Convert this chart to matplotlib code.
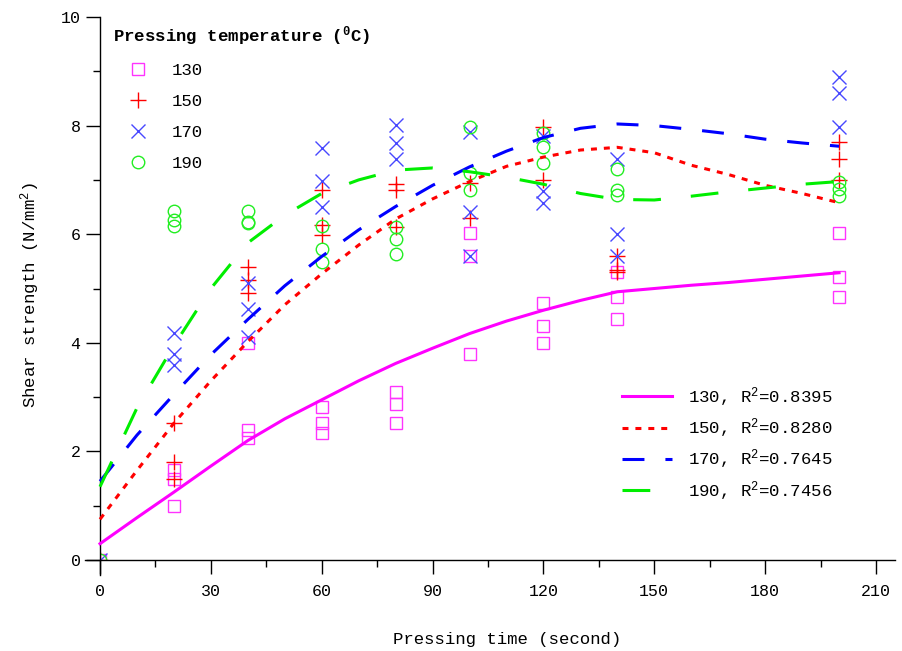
import matplotlib
matplotlib.use("Agg")
import matplotlib.pyplot as plt
from matplotlib.patches import Rectangle
from matplotlib.ticker import MultipleLocator

plt.rcParams['font.family'] = ['Liberation Mono', 'DejaVu Sans Mono']
plt.rcParams['mathtext.fontset'] = 'custom'
plt.rcParams['mathtext.rm'] = 'Liberation Mono'
plt.rcParams['mathtext.it'] = 'Liberation Mono'
plt.rcParams['mathtext.bf'] = 'Liberation Mono:bold'
plt.rcParams['lines.scale_dashes'] = False

# ---- data -------------------------------------------------------------
temperatures = ['130', '150', '170', '190']
r_squared = ['0.8395', '0.8280', '0.7645', '0.7456']

# measured replicates (pressing time in s, shear strength in N/mm2)
time_130 = [0, 20, 20, 20, 40, 40, 40, 60, 60, 60, 80, 80, 80,
            100, 100, 100, 120, 120, 120, 140, 140, 140, 200, 200, 200]
shear_130 = [0, 1.65, 1.5, 1.0, 4.0, 2.4, 2.25, 2.82, 2.52, 2.34, 3.1, 2.88, 2.52,
             6.02, 5.6, 3.8, 4.73, 4.31, 4.0, 5.31, 4.85, 4.43, 6.02, 5.21, 4.84]

time_150 = [0, 20, 20, 20, 40, 40, 40, 60, 60, 60, 80, 80, 80,
            100, 100, 120, 120, 140, 140, 140, 200, 200, 200]
shear_150 = [0, 2.52, 1.8, 1.5, 5.4, 5.15, 4.92, 6.81, 6.17, 5.99, 6.92, 6.81, 6.13,
             6.95, 6.3, 7.97, 7.0, 5.6, 5.35, 5.3, 7.69, 7.38, 7.0]

time_170 = [0, 20, 20, 20, 40, 40, 40, 60, 60, 60, 80, 80, 80,
            100, 100, 100, 120, 120, 120, 140, 140, 140, 200, 200, 200]
shear_170 = [0, 4.18, 3.8, 3.6, 5.1, 4.62, 4.1, 7.59, 6.98, 6.5, 8.01, 7.68, 7.38,
             7.88, 6.41, 5.6, 7.8, 6.8, 6.57, 7.38, 6.0, 5.6, 8.9, 8.6, 7.98]

time_190 = [0, 20, 20, 20, 40, 40, 40, 60, 60, 60, 80, 80, 80,
            100, 100, 100, 120, 120, 120, 140, 140, 140, 200, 200, 200]
shear_190 = [0, 6.43, 6.27, 6.15, 6.43, 6.22, 6.2, 6.15, 5.73, 5.49, 6.13, 5.91, 5.64,
             7.97, 7.12, 6.81, 7.86, 7.61, 7.31, 7.2, 6.81, 6.72, 6.97, 6.83, 6.7]

# fitted curves
fit_time = [0, 10, 20, 30, 40, 50, 60, 70, 80, 90, 100, 110, 120, 130, 140,
            150, 160, 170, 180, 190, 200]
fit_130 = [0.3, 0.78, 1.25, 1.73, 2.2, 2.6, 2.95, 3.3, 3.62, 3.9, 4.17, 4.4, 4.6,
           4.78, 4.94, 5.0, 5.06, 5.11, 5.17, 5.23, 5.29]
fit_150 = [0.75, 1.65, 2.52, 3.3, 4.02, 4.7, 5.27, 5.8, 6.28, 6.65, 6.97, 7.25, 7.42,
           7.55, 7.6, 7.5, 7.27, 7.1, 6.9, 6.75, 6.58]
fit_170 = [1.45, 2.3, 3.05, 3.78, 4.43, 5.05, 5.59, 6.08, 6.51, 6.9, 7.24, 7.53, 7.78,
           7.95, 8.03, 8.0, 7.93, 7.85, 7.75, 7.68, 7.62]
fit_190 = [1.35, 2.8, 3.95, 5.0, 5.84, 6.35, 6.75, 7.0, 7.18, 7.22, 7.15, 7.05, 6.92,
           6.75, 6.64, 6.63, 6.7, 6.78, 6.85, 6.92, 6.97]

# ---- figure -----------------------------------------------------------
W, H = 902, 651
fig = plt.figure(figsize=(W / 100, H / 100), dpi=100)
px_x0, px_x1 = 85, 894.5
px_ytop, px_ybot = 17, 575
ax = fig.add_axes([px_x0 / W, 1 - px_ybot / H, (px_x1 - px_x0) / W, (px_ybot - px_ytop) / H])
ax.set_xlim(-4.06, 215)
ax.set_ylim(-0.276, 10)

for side in ['top', 'right']:
    ax.spines[side].set_visible(False)
ax.spines['left'].set_position(('data', 0))
ax.spines['bottom'].set_position(('data', 0))
for side in ['left', 'bottom']:
    ax.spines[side].set_linewidth(1.0)
    ax.spines[side].set_color('black')
ax.spines['left'].set_bounds(-0.276, 10)
ax.spines['bottom'].set_bounds(-4.06, 215)

ax.xaxis.set_minor_locator(MultipleLocator(15))
ax.yaxis.set_minor_locator(MultipleLocator(1))
ax.set_xticks(range(0, 211, 30))
ax.set_yticks(range(0, 11, 2))
ax.tick_params(which='major', direction='out', length=10, width=1.0, labelsize=12)
ax.tick_params(which='minor', direction='out', length=5, width=1.0)
ax.tick_params(axis='x', which='major', pad=7)
ax.tick_params(axis='y', which='major', pad=4)

clip = Rectangle((0, 0), 215, 10.3, transform=ax.transData, visible=False)
ax.add_patch(clip)

marker_style = [
    dict(marker='s', color='#FF33FF', ms=9, mfc='none', mew=1.0),
    dict(marker='+', color='#FF0000', ms=12, mew=1.0),
    dict(marker='x', color='#4848FF', ms=10, mew=1.0),
    dict(marker='o', color='#22EE22', ms=9, mfc='none', mew=1.0),
]
obs = [(time_130, shear_130), (time_150, shear_150),
       (time_170, shear_170), (time_190, shear_190)]
mk_handles = []
for (t, v), st, lab in zip(obs, marker_style, temperatures):
    h, = ax.plot(t, v, linestyle='none', label=lab, zorder=2, **st)
    h.set_clip_path(clip)
    mk_handles.append(h)

line_style = [
    dict(color='#FF00FF', linestyle='-'),
    dict(color='#FF0000', linestyle=(0, (4.3, 5.0))),
    dict(color='#0000FF', linestyle=(0, (15.8, 15.1))),
    dict(color='#00EE00', linestyle=(0, (20.0, 21.6))),
]
fits = [fit_130, fit_150, fit_170, fit_190]
ln_handles = []
for f, st, lab, r2 in zip(fits, line_style, temperatures, r_squared):
    h, = ax.plot(fit_time, f, lw=2.2, zorder=3,
                 label=f'{lab}, R$^2$={r2}', **st)
    ln_handles.append(h)

leg1 = ax.legend(handles=mk_handles, loc='upper left',
                 bbox_to_anchor=(113 / W, 1 - 24 / H), bbox_transform=fig.transFigure,
                 frameon=False, fontsize=12.5, borderpad=0, borderaxespad=0,
                 handlelength=2.87, handletextpad=0.5, labelspacing=0.92,
                 title=r'Pressing temperature ($^{\mathbf{0}}$C)', alignment='left',
                 title_fontproperties={'weight': 'bold', 'size': 12.5})
leg1._legend_box.sep = 11
ax.add_artist(leg1)

ax.legend(handles=ln_handles, loc='upper left',
          bbox_to_anchor=(622 / W, 1 - 385 / H), bbox_transform=fig.transFigure,
          frameon=False, fontsize=12.5, borderpad=0, borderaxespad=0,
          handlelength=2.9, handletextpad=0.9, labelspacing=0.45)

ax.set_xlabel('Pressing time (second)', fontsize=12.5)
ax.xaxis.set_label_coords(507 / W, 1 - 632 / H, transform=fig.transFigure)
ax.set_ylabel('Shear strength (N/mm$^2$)', fontsize=12.5)
ax.yaxis.set_label_coords(42 / W, 1 - 295 / H, transform=fig.transFigure)

fig.savefig('out.png', dpi=100)
